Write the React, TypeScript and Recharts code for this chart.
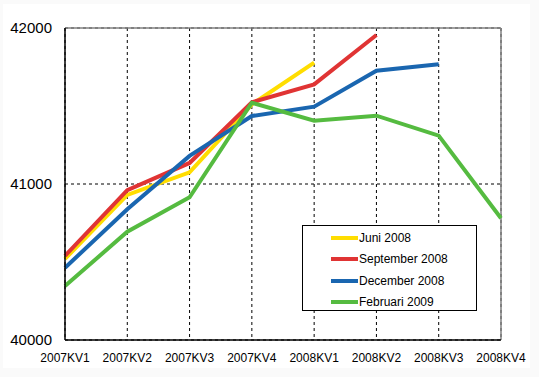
import { CartesianGrid, Legend, Line, LineChart, ReferenceLine, XAxis, YAxis } from 'recharts'

const quarters = ['2007KV1', '2007KV2', '2007KV3', '2007KV4', '2008KV1', '2008KV2', '2008KV3', '2008KV4']
const juni2008 = [40520, 40930, 41075, 41510, 41778, null, null, null]
const september2008 = [40540, 40960, 41135, 41524, 41639, 41955, null, null]
const december2008 = [40463, 40838, 41180, 41436, 41496, 41726, 41767, null]
const februari2009 = [40346, 40694, 40915, 41521, 41406, 41438, 41310, 40780]
const yTicks = [40000, 41000, 42000]

const series = [
  { key: 'Juni 2008', values: juni2008, color: '#ffdd00' },
  { key: 'September 2008', values: september2008, color: '#e03434' },
  { key: 'December 2008', values: december2008, color: '#1a66b0' },
  { key: 'Februari 2009', values: februari2009, color: '#55bb40' },
]

const data = quarters.map((q, i) => {
  const row: Record<string, string | number | null> = { q }
  series.forEach((s) => (row[s.key] = s.values[i]))
  return row
})

const font = '"Liberation Sans", Arial, sans-serif'

// legend keeps the series order (recharts would sort by name)
function LegendBox() {
  return (
    <div
      style={{
        boxSizing: 'border-box',
        width: 175,
        height: 86,
        border: '1px solid #000',
        background: '#fff',
        paddingTop: 1,
        fontFamily: font,
        fontSize: 12,
        color: '#000',
      }}
    >
      {series.map((s) => (
        <div key={s.key} style={{ display: 'flex', alignItems: 'center', height: 21.5, paddingLeft: 28 }}>
          <span style={{ width: 27, height: 4, background: s.color, marginRight: 1 }} />
          <span>{s.key}</span>
        </div>
      ))}
    </div>
  )
}

export default function App() {
  return (
    <div style={{ position: 'absolute', left: 0, top: 0, width: 539, height: 377, background: '#fafafa' }}>
      <div style={{ position: 'absolute', left: 3, top: 4, width: 527, height: 364, background: '#fff' }} />
      <div style={{ position: 'absolute', left: 0, top: 0 }}>
        <LineChart width={539} height={377} data={data} margin={{ top: 28, right: 38, left: 0, bottom: 0 }}>
          <CartesianGrid stroke="#000" strokeDasharray="3 3" />
          <XAxis
            dataKey="q"
            interval={0}
            axisLine={{ stroke: '#000', strokeWidth: 1.5 }}
            tickLine={false}
            tickMargin={7}
            height={37}
            tick={{ fontSize: 12, fill: '#000', fontFamily: font }}
          />
          <YAxis
            domain={[40000, 42000]}
            ticks={yTicks}
            width={65}
            axisLine={{ stroke: '#000', strokeWidth: 1.5 }}
            tickLine={false}
            tickMargin={7}
            tick={{ fontSize: 15, fill: '#000', fontFamily: font }}
          />
          <ReferenceLine y={42000} stroke="#808080" strokeWidth={1.5} />
          <ReferenceLine x="2008KV4" stroke="#808080" strokeWidth={1.5} />
          {series.map((s) => (
            <Line
              key={s.key}
              dataKey={s.key}
              stroke={s.color}
              strokeWidth={4}
              dot={false}
              activeDot={false}
              strokeLinejoin="miter"
              strokeLinecap="butt"
              isAnimationActive={false}
            />
          ))}
          <Legend
            layout="vertical"
            align="center"
            verticalAlign="middle"
            content={<LegendBox />}
            wrapperStyle={{ left: 302, top: 225, width: 175, height: 86 }}
          />
        </LineChart>
      </div>
    </div>
  )
}
